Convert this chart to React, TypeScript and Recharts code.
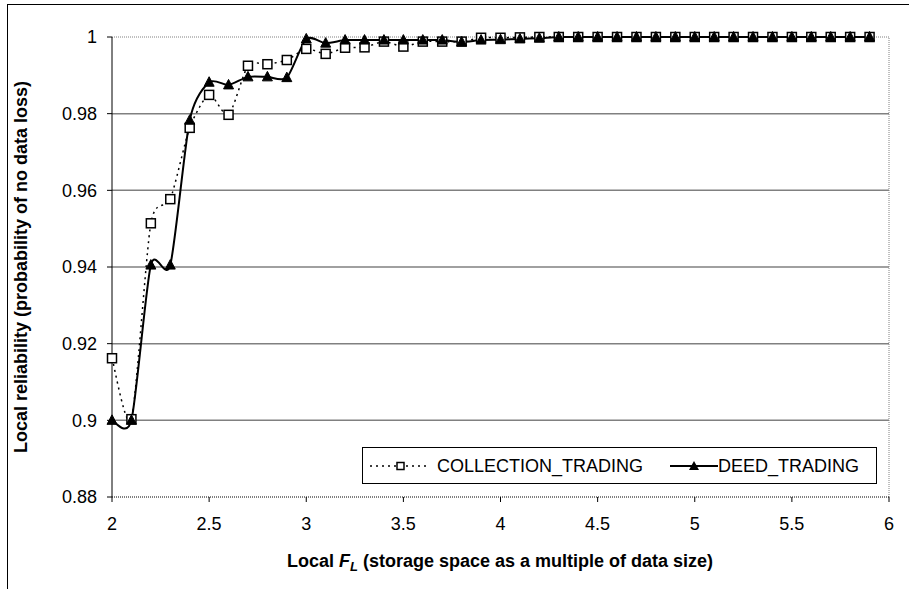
import React from "react";
import {
  LineChart,
  Line,
  XAxis,
  YAxis,
  CartesianGrid,
  ReferenceLine,
  Legend,
} from "recharts";

const localFL = [
  2.0, 2.1, 2.2, 2.3, 2.4, 2.5, 2.6, 2.7, 2.8, 2.9,
  3.0, 3.1, 3.2, 3.3, 3.4, 3.5, 3.6, 3.7, 3.8, 3.9,
  4.0, 4.1, 4.2, 4.3, 4.4, 4.5, 4.6, 4.7, 4.8, 4.9,
  5.0, 5.1, 5.2, 5.3, 5.4, 5.5, 5.6, 5.7, 5.8, 5.9,
];

const collectionTrading = [
  0.9162, 0.9003, 0.9514, 0.9577, 0.9763, 0.9849, 0.9797, 0.9925, 0.9929, 0.994,
  0.9969, 0.9956, 0.9972, 0.9973, 0.9988, 0.9975, 0.9988, 0.9988, 0.9988, 0.9998,
  0.9998, 0.9999, 1, 1, 1, 1, 1, 1, 1, 1,
  1, 1, 1, 1, 1, 1, 1, 1, 1, 1,
];

const deedTrading = [
  0.9, 0.9, 0.9405, 0.9405, 0.9783, 0.9882, 0.9875, 0.9896, 0.9896, 0.9894,
  0.9995, 0.9984, 0.9992, 0.9992, 0.9992, 0.9992, 0.9992, 0.9992, 0.9987, 0.9992,
  0.9993, 0.9995, 0.9997, 1, 1, 1, 1, 1, 1, 1,
  1, 1, 1, 1, 1, 1, 1, 1, 1, 1,
];

const xTicks = [2, 2.5, 3, 3.5, 4, 4.5, 5, 5.5, 6];
const yTicks = [0.88, 0.9, 0.92, 0.94, 0.96, 0.98, 1];
const gridValues = [0.9, 0.92, 0.94, 0.96, 0.98];

const data = localFL.map((fl, i) => ({
  fl,
  collection: collectionTrading[i],
  deed: deedTrading[i],
}));

const FONT = '"Liberation Sans", Arial, sans-serif';

// Excel-like smoothed line (softened Catmull-Rom through the points)
const SMOOTH = 0.12;
const excelSmooth = (context: any) => {
  let pts: number[][] = [];
  return {
    areaStart() {},
    areaEnd() {},
    lineStart() {
      pts = [];
    },
    lineEnd() {
      if (!pts.length) return;
      context.moveTo(pts[0][0], pts[0][1]);
      for (let i = 0; i < pts.length - 1; i++) {
        const p0 = pts[i - 1] || pts[i];
        const p1 = pts[i];
        const p2 = pts[i + 1];
        const p3 = pts[i + 2] || p2;
        context.bezierCurveTo(
          p1[0] + (p2[0] - p0[0]) * SMOOTH,
          p1[1] + (p2[1] - p0[1]) * SMOOTH,
          p2[0] - (p3[0] - p1[0]) * SMOOTH,
          p2[1] - (p3[1] - p1[1]) * SMOOTH,
          p2[0],
          p2[1]
        );
      }
    },
    point(x: number, y: number) {
      pts.push([+x, +y]);
    },
  };
};

const SquareDot = (props: any) => {
  const { cx, cy } = props;
  if (cx == null || cy == null) return null;
  return <rect x={cx - 4.5} y={cy - 4.5} width={9} height={9} fill="#fff" stroke="#000" strokeWidth={1.5} />;
};

const TriangleDot = (props: any) => {
  const { cx, cy } = props;
  if (cx == null || cy == null) return null;
  return <polygon points={`${cx},${cy - 5.5} ${cx + 5},${cy + 4} ${cx - 5},${cy + 4}`} fill="#000" stroke="#000" />;
};

function ChartLegend() {
  return (
    <div
      style={{
        position: "relative",
        width: 515,
        height: 37,
        boxSizing: "border-box",
        border: "1px solid #000",
        background: "#fff",
        fontFamily: FONT,
        fontSize: 18,
        color: "#000",
      }}
    >
      <svg width={64} height={14} style={{ position: "absolute", left: 5, top: 11 }}>
        <line x1={2} y1={7} x2={62} y2={7} stroke="#000" strokeWidth={1.5} strokeDasharray="2 4" />
        <rect x={29} y={3.5} width={7} height={7} fill="#fff" stroke="#000" strokeWidth={1.5} />
      </svg>
      <span style={{ position: "absolute", left: 74, top: 8, lineHeight: "20px" }}>COLLECTION_TRADING</span>
      <svg width={50} height={14} style={{ position: "absolute", left: 306, top: 11 }}>
        <line x1={1} y1={7} x2={49} y2={7} stroke="#000" strokeWidth={2} />
        <polygon points="25,2 30,11 20,11" fill="#000" />
      </svg>
      <span style={{ position: "absolute", left: 355, top: 8, lineHeight: "20px" }}>DEED_TRADING</span>
    </div>
  );
}

const XTitle = () => {
  return (
    <text x={500} y={567} textAnchor="middle" fontFamily={FONT} fontSize={18} fontWeight="bold" fill="#000">
      Local{" "}
      <tspan fontStyle="italic">F</tspan>
      <tspan fontStyle="italic" fontSize={13} dy={4}>L</tspan>
      <tspan dy={-4}> (storage space as a multiple of data size)</tspan>
    </text>
  );
};

const YTitle = () => {
  return (
    <text
      x={21}
      y={267}
      transform="rotate(-90, 21, 267)"
      textAnchor="middle"
      dominantBaseline="central"
      fontFamily={FONT}
      fontSize={18}
      fontWeight="bold"
      fill="#000"
    >
      Local reliability (probability of no data loss)
    </text>
  );
};

export default function App() {
  return (
    <div
      style={{
        position: "absolute",
        left: 0,
        top: 0,
        width: 909,
        height: 589,
        overflow: "hidden",
        background: "#fff",
      }}
    >
      <div
        style={{
          position: "absolute",
          left: 7,
          top: 4,
          width: 960,
          height: 640,
          borderLeft: "1px solid #000",
          borderTop: "1px solid #000",
        }}
      />
      <div style={{ position: "absolute", left: 0, top: 0 }}>
        <LineChart
          width={909}
          height={589}
          data={data}
          margin={{ top: 37, right: 20, left: 12, bottom: 32 }}
        >
          <CartesianGrid
            horizontal
            vertical={false}
            horizontalValues={gridValues}
            stroke="#808080"
            strokeWidth={1.5}
          />
          <XAxis
            dataKey="fl"
            type="number"
            domain={[2, 6]}
            ticks={xTicks}
            interval={0}
            height={60}
            tickSize={5}
            tickMargin={15}
            tickFormatter={(v) => String(v)}
            axisLine={{ stroke: "#000", strokeDasharray: "1 1" }}
            tickLine={{ stroke: "#000" }}
            tick={{ fill: "#000", fontSize: 18, fontFamily: FONT }}
            label={<XTitle />}
          />
          <YAxis
            type="number"
            domain={[0.88, 1]}
            ticks={yTicks}
            interval={0}
            width={100}
            tickSize={5}
            tickMargin={10}
            tickFormatter={(v) => String(Number(v.toFixed(2)))}
            axisLine={{ stroke: "#000" }}
            tickLine={{ stroke: "#000" }}
            tick={{ fill: "#000", fontSize: 18, fontFamily: FONT }}
            label={<YTitle />}
          />
          <ReferenceLine y={1} stroke="#808080" strokeDasharray="1 1" />
          <ReferenceLine x={6} stroke="#808080" strokeDasharray="1 1" />
          <Line
            dataKey="collection"
            name="COLLECTION_TRADING"
            type={excelSmooth as any}
            stroke="#000"
            strokeWidth={1.5}
            strokeDasharray="2 4"
            dot={<SquareDot />}
            activeDot={false}
            isAnimationActive={false}
          />
          <Line
            dataKey="deed"
            name="DEED_TRADING"
            type={excelSmooth as any}
            stroke="#000"
            strokeWidth={2}
            dot={<TriangleDot />}
            activeDot={false}
            isAnimationActive={false}
          />
          <Legend
            layout="horizontal"
            verticalAlign="middle"
            align="center"
            content={<ChartLegend />}
            wrapperStyle={{ left: 362, top: 447, width: 515, height: 37 }}
          />
        </LineChart>
      </div>
    </div>
  );
}
